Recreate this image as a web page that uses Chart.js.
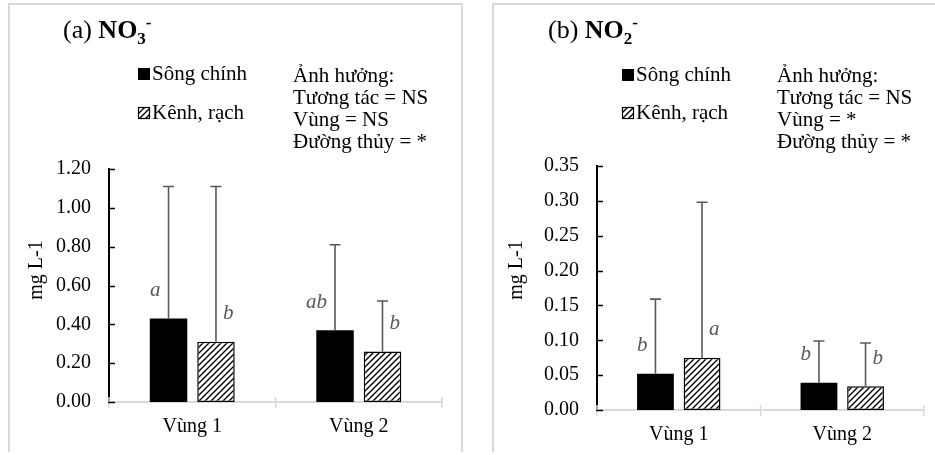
<!DOCTYPE html>
<html lang="vi">
<head>
    <meta charset="UTF-8">
    <title>NO3 / NO2</title>
    <script src="https://cdn.jsdelivr.net/npm/chart.js"></script>
    <style>
        body { margin: 0; background: #fff; }
        #wrap { position: relative; width: 935px; height: 455px; overflow: hidden; font-family: 'Liberation Serif', 'Times New Roman', serif; }
        canvas { position: absolute; top: 0; }
        .frame { position: absolute; top: 3px; height: 449px; border: 2px solid #d9d9d9; border-bottom: none; box-sizing: border-box; }
        .title { position: absolute; top: 17px; font-size: 26px; line-height: 26px; white-space: nowrap; color: #000; }
        .title .sub { position: relative; top: 6px; font-size: 17px; }
        .title .sup { position: relative; top: -10px; font-size: 17px; }
        .effects { position: absolute; top: 64px; font-size: 21px; line-height: 22px; white-space: nowrap; color: #000; }
    </style>
</head>
<body>
<div id="wrap">
    <div class="frame" style="left:8px;width:455px;"></div>
    <div class="frame" style="left:492px;width:460px;"></div>
    <canvas id="chartA" width="470" height="455" style="left:0"></canvas>
    <canvas id="chartB" width="470" height="455" style="left:465px"></canvas>
    <div class="title" style="left:63px">(a) <b>NO<span class="sub">3</span><span class="sup">-</span></b></div>
    <div class="title" style="left:548px">(b) <b>NO<span class="sub">2</span><span class="sup">-</span></b></div>
    <div class="effects" id="effA" style="left:293px"></div>
    <div class="effects" id="effB" style="left:777px"></div>
</div>

<script>
    // categories and series
    const categories = ['Vùng 1', 'Vùng 2'];
    const seriesNames = ['Sông chính', 'Kênh, rạch'];

    // (a) NO3- mean, SD and letters
    const no3Main = [0.43, 0.37];
    const no3Canal = [0.31, 0.26];
    const no3MainErr = [0.68, 0.44];
    const no3CanalErr = [0.80, 0.26];
    const no3MainLetters = ['a', 'ab'];
    const no3CanalLetters = ['b', 'b'];
    const no3Ticks = [0, 0.2, 0.4, 0.6, 0.8, 1.0, 1.2];
    const no3Effects = ['Ảnh hưởng:', 'Tương tác = NS', 'Vùng = NS', 'Đường thủy = *'];

    // (b) NO2-
    const no2Main = [0.052, 0.039];
    const no2Canal = [0.075, 0.034];
    const no2MainErr = [0.107, 0.060];
    const no2CanalErr = [0.223, 0.062];
    const no2MainLetters = ['b', 'b'];
    const no2CanalLetters = ['a', 'b'];
    const no2Ticks = [0, 0.05, 0.10, 0.15, 0.20, 0.25, 0.30, 0.35];
    const no2Effects = ['Ảnh hưởng:', 'Tương tác = NS', 'Vùng = *', 'Đường thủy = *'];

    const FONT = "'Liberation Serif', 'Times New Roman', serif";

    document.getElementById('effA').innerHTML = no3Effects.join('<br>');
    document.getElementById('effB').innerHTML = no2Effects.join('<br>');

    // hatch pattern for "Kênh, rạch"
    function makeHatch(ctx) {
        const c = document.createElement('canvas');
        c.width = 6; c.height = 6;
        const g = c.getContext('2d');
        g.fillStyle = '#fff';
        g.fillRect(0, 0, 6, 6);
        g.strokeStyle = '#000';
        g.lineWidth = 1.4;
        g.beginPath();
        g.moveTo(0, 6); g.lineTo(6, 0);
        g.moveTo(-3, 3); g.lineTo(3, -3);
        g.moveTo(3, 9); g.lineTo(9, 3);
        g.stroke();
        return ctx.createPattern(c, 'repeat');
    }

    // error bars, letters, inner y ticks, legend, y title
    const extras = {
        id: 'extras',
        afterDatasetsDraw(chart, args, opts) {
            const ctx = chart.ctx;
            const ys = chart.scales.y;
            ctx.save();
            chart.data.datasets.forEach((ds, di) => {
                const meta = chart.getDatasetMeta(di);
                meta.data.forEach((bar, i) => {
                    const v = ds.data[i];
                    const yv = ys.getPixelForValue(v);
                    const ye = ys.getPixelForValue(v + ds.errors[i]);
                    ctx.strokeStyle = '#595959';
                    ctx.lineWidth = 1.6;
                    ctx.beginPath();
                    ctx.moveTo(bar.x, yv);
                    ctx.lineTo(bar.x, ye);
                    ctx.moveTo(bar.x - 5.5, ye);
                    ctx.lineTo(bar.x + 5.5, ye);
                    ctx.stroke();

                    ctx.fillStyle = '#595959';
                    ctx.font = 'italic 21px ' + FONT;
                    ctx.textBaseline = 'middle';
                    ctx.textAlign = di === 0 ? 'right' : 'left';
                    const lx = di === 0 ? bar.x - 8 : bar.x + 7;
                    ctx.fillText(ds.letters[i], lx, yv - 28);
                });
            });
            ctx.restore();
        },
        afterDraw(chart, args, opts) {
            const ctx = chart.ctx;
            const ys = chart.scales.y;
            const xs = chart.scales.x;
            const area = chart.chartArea;
            ctx.save();
            // inner tick marks on the y axis
            ctx.strokeStyle = '#000';
            ctx.lineWidth = 1.5;
            ys.ticks.forEach(t => {
                const y = Math.round(ys.getPixelForValue(t.value)) + 0.5;
                ctx.beginPath();
                ctx.moveTo(area.left, y);
                ctx.lineTo(area.left + 6, y);
                ctx.stroke();
            });
            // x tick marks also reach a little above the axis
            ctx.strokeStyle = '#d9d9d9';
            ctx.lineWidth = 1.5;
            for (let i = 0; i <= xs.ticks.length; i++) {
                const x = xs.getPixelForValue(i - 0.5);
                ctx.beginPath();
                ctx.moveTo(x, area.bottom - 5);
                ctx.lineTo(x, area.bottom);
                ctx.stroke();
            }
            // legend
            ctx.font = '21px ' + FONT;
            ctx.textBaseline = 'middle';
            ctx.textAlign = 'left';
            chart.data.datasets.forEach((ds, i) => {
                const y = opts.legendY + i * opts.legendGap;
                ctx.fillStyle = ds.backgroundColor;
                ctx.fillRect(opts.legendX, y - 6, 12, 12);
                if (ds.borderWidth) {
                    ctx.strokeStyle = '#000';
                    ctx.lineWidth = 1.2;
                    ctx.strokeRect(opts.legendX + 0.5, y - 5.5, 11, 11);
                }
                ctx.fillStyle = '#000';
                ctx.fillText(ds.label, opts.legendX + 14, y);
            });
            // y axis title
            ctx.font = '20px ' + FONT;
            ctx.translate(opts.titleX, opts.titleY);
            ctx.rotate(-Math.PI / 2);
            ctx.textAlign = 'center';
            ctx.fillText('mg L-1', 0, 0);
            ctx.restore();
        }
    };

    function makeChart(id, main, canal, mainErr, canalErr, mainLet, canalLet, ticks, geo) {
        const ctx = document.getElementById(id).getContext('2d');
        const step = ticks[1] - ticks[0];
        return new Chart(ctx, {
            type: 'bar',
            data: {
                labels: categories,
                datasets: [{
                    label: seriesNames[0],
                    data: main,
                    errors: mainErr,
                    letters: mainLet,
                    backgroundColor: '#000',
                    borderWidth: 0
                }, {
                    label: seriesNames[1],
                    data: canal,
                    errors: canalErr,
                    letters: canalLet,
                    backgroundColor: makeHatch(ctx),
                    borderColor: '#000',
                    borderWidth: 1.5,
                    borderSkipped: false
                }]
            },
            options: {
                responsive: false,
                animation: false,
                categoryPercentage: 0.57,
                barPercentage: 0.79,
                layout: { padding: { top: geo.top, right: geo.right, left: 0, bottom: 0 } },
                plugins: {
                    legend: { display: false },
                    tooltip: { enabled: false },
                    extras: geo.extras
                },
                scales: {
                    x: {
                        grid: { display: true, drawOnChartArea: false, drawTicks: true, tickLength: 6, color: '#d9d9d9', lineWidth: 1.5 },
                        border: { display: true, color: '#d9d9d9', width: 2 },
                        ticks: { color: '#000', font: { family: FONT, size: 20 }, padding: 7 },
                        afterFit: s => { s.height = geo.xHeight; }
                    },
                    y: {
                        min: ticks[0],
                        max: ticks[ticks.length - 1],
                        grid: { display: false, drawTicks: false },
                        border: { display: true, color: '#000', width: 2 },
                        ticks: {
                            stepSize: step,
                            color: '#000',
                            font: { family: FONT, size: 20 },
                            padding: 18,
                            callback: v => Number(v).toFixed(2)
                        },
                        afterFit: s => { s.width = geo.yWidth; }
                    }
                }
            },
            plugins: [extras]
        });
    }

    makeChart('chartA', no3Main, no3Canal, no3MainErr, no3CanalErr, no3MainLetters, no3CanalLetters, no3Ticks, {
        top: 169, right: 28, xHeight: 53, yWidth: 109,
        extras: { legendX: 138, legendY: 74, legendGap: 39, titleX: 37, titleY: 270 }
    });

    makeChart('chartB', no2Main, no2Canal, no2MainErr, no2CanalErr, no2MainLetters, no2CanalLetters, no2Ticks, {
        top: 166, right: 11, xHeight: 45, yWidth: 132,
        extras: { legendX: 157, legendY: 75, legendGap: 38, titleX: 52, titleY: 270 }
    });
</script>
</body>
</html>
